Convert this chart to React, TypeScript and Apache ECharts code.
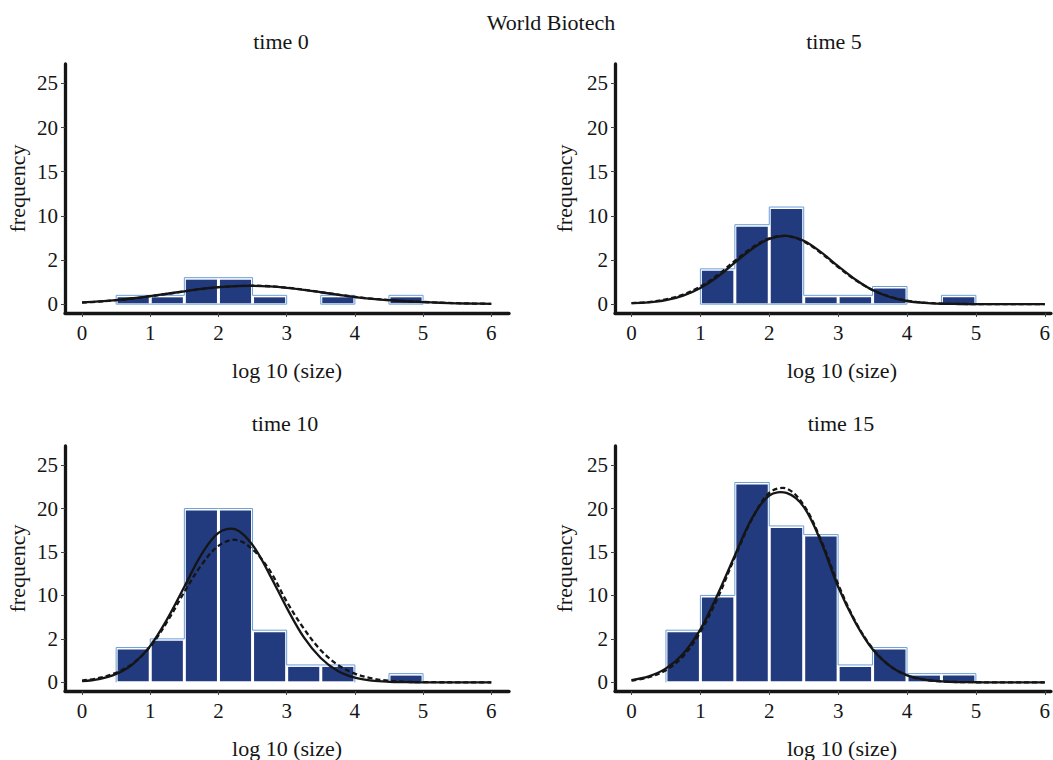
import React, { useEffect, useRef } from "react";
import * as echarts from "echarts";

// ---------- data ----------
const mainTitle = "World Biotech";
const panelTitles = ["time 0", "time 5", "time 10", "time 15"];
const xAxisName = "log 10 (size)";
const yAxisName = "frequency";

const binStarts = [0.5, 1, 1.5, 2, 2.5, 3, 3.5, 4, 4.5];
const binWidth = 0.5;

const countsTime0 = [1, 1, 3, 3, 1, 0, 1, 0, 1];
const countsTime5 = [0, 4, 9, 11, 1, 1, 2, 0, 1];
const countsTime10 = [4, 5, 20, 20, 6, 2, 2, 0, 1];
const countsTime15 = [6, 10, 23, 18, 17, 2, 4, 1, 1];

const curveX = [0, 0.25, 0.5, 0.75, 1, 1.25, 1.5, 1.75, 2, 2.25, 2.5, 2.75, 3, 3.25, 3.5, 3.75, 4, 4.25, 4.5, 4.75, 5, 5.25, 5.5, 5.75, 6];

const solidTime0 = [0.2, 0.31, 0.47, 0.67, 0.91, 1.18, 1.46, 1.72, 1.92, 2.05, 2.08, 2.01, 1.85, 1.62, 1.35, 1.07, 0.81, 0.6, 0.45, 0.33, 0.24, 0.16, 0.1, 0.06, 0.04];
const dashedTime0 = [0.18, 0.29, 0.45, 0.66, 0.9, 1.17, 1.45, 1.71, 1.92, 2.05, 2.09, 2.03, 1.87, 1.64, 1.37, 1.09, 0.83, 0.62, 0.46, 0.34, 0.25, 0.17, 0.11, 0.07, 0.04];

const solidTime5 = [0.12, 0.2, 0.45, 0.97, 1.84, 3.1, 4.7, 6.25, 7.39, 7.74, 7.18, 5.9, 4.3, 2.8, 1.6, 0.81, 0.36, 0.15, 0.05, 0.02, 0.01, 0, 0, 0, 0];
const dashedTime5 = [0.12, 0.24, 0.55, 1.1, 2.0, 3.3, 4.9, 6.4, 7.45, 7.72, 7.1, 5.8, 4.2, 2.75, 1.6, 0.85, 0.4, 0.17, 0.07, 0.03, 0.01, 0, 0, 0, 0];

const solidTime10 = [0.13, 0.37, 0.95, 2.13, 4.2, 7.3, 11.0, 14.7, 17.2, 17.6, 15.8, 12.4, 8.6, 5.2, 2.8, 1.29, 0.53, 0.19, 0.06, 0.02, 0, 0, 0, 0, 0];
const dashedTime10 = [0.2, 0.5, 1.1, 2.2, 4.1, 7.0, 10.4, 13.5, 15.7, 16.4, 15.3, 12.9, 9.3, 6.2, 3.7, 2.0, 1.0, 0.45, 0.18, 0.06, 0.02, 0.01, 0, 0, 0];

const solidTime15 = [0.26, 0.68, 1.6, 3.3, 6.1, 10.1, 14.6, 18.9, 21.5, 21.8, 20.2, 16.2, 11.0, 6.9, 3.8, 1.9, 0.81, 0.31, 0.11, 0.03, 0.01, 0, 0, 0, 0];
const dashedTime15 = [0.21, 0.58, 1.4, 3.0, 5.8, 9.7, 14.4, 18.8, 21.8, 22.3, 20.4, 16.4, 11.3, 7.0, 3.9, 1.9, 0.81, 0.3, 0.1, 0.03, 0.01, 0, 0, 0, 0];

const xTickValues = [0, 1, 2, 3, 4, 5, 6];
const yTickValues = [0, 5, 10, 15, 20, 25];
const yTickLabels = ["0", "2", "10", "15", "20", "25"];

const countsList = [countsTime0, countsTime5, countsTime10, countsTime15];
const solidList = [solidTime0, solidTime5, solidTime10, solidTime15];
const dashedList = [dashedTime0, dashedTime5, dashedTime10, dashedTime15];

// ---------- styles / layout ----------
const FONT = "'Liberation Serif', 'DejaVu Serif', serif";
const BAR = "#223a7e";
const LIGHT = "#6a9fd6";
const INK = "#151515";
const FS = 22;

const panels = [
  { left: 65, top: 64, width: 444, height: 249, xMin: -0.25, xMax: 6.26, yMin: -1, yMax: 27.2, base: true, titleX: 281, titleY: 30, nameGap: 37, namePad: 0 },
  { left: 615, top: 64, width: 438, height: 249, xMin: -0.24, xMax: 6.09, yMin: -1, yMax: 27.2, base: true, titleX: 834, titleY: 30, nameGap: 40, namePad: 18 },
  { left: 65, top: 446, width: 444, height: 248, xMin: -0.25, xMax: 6.26, yMin: -1, yMax: 27.2, base: false, titleX: 285, titleY: 412, nameGap: 37, namePad: 0 },
  { left: 615, top: 446, width: 438, height: 248, xMin: -0.24, xMax: 6.09, yMin: -1, yMax: 27.2, base: false, titleX: 841, titleY: 412, nameGap: 40, namePad: 18 },
];

function envelope(counts: number[], closeBase: boolean) {
  const out: any[] = [];
  let i = 0;
  while (i < counts.length) {
    if (!counts[i]) { i++; continue; }
    const start = i;
    const run: any[] = [[binStarts[start], 0]];
    while (i < counts.length && counts[i]) {
      run.push([binStarts[i], counts[i]]);
      i++;
    }
    const end = binStarts[i - 1] + binWidth;
    run.push([end, 0]);
    if (closeBase) run.push([binStarts[start], 0]);
    if (out.length) out.push(null);
    out.push(...run);
  }
  return out;
}

function curveSeries(k: number, values: number[], dashed: boolean) {
  return {
    type: "custom",
    xAxisIndex: k,
    yAxisIndex: k,
    z: dashed ? 3 : 4,
    silent: true,
    encode: { x: 0, y: 1 },
    data: curveX.map((x, i) => [x, values[i]]),
    renderItem: (params: any, api: any) => {
      if (params.dataIndex !== 0) return null;
      const pts = curveX.map((x, i) => api.coord([x, values[i]]));
      return {
        type: "polyline",
        shape: { points: pts, smooth: 0.35 },
        style: dashed
          ? { stroke: INK, lineWidth: 2.3, fill: "none", lineDash: [5, 3] }
          : { stroke: INK, lineWidth: 2.3, fill: "none" },
      };
    },
  };
}

export default function App() {
  const ref = useRef<HTMLDivElement>(null);

  useEffect(() => {
    if (!ref.current) return;
    const chart = echarts.init(ref.current, null, { renderer: "svg" });

    const grid: any[] = [];
    const xAxis: any[] = [];
    const yAxis: any[] = [];
    const series: any[] = [];
    const title: any[] = [
      {
        text: mainTitle,
        left: 551,
        top: 11,
        textAlign: "center",
        padding: 0,
        textStyle: { fontFamily: FONT, fontSize: FS, fontWeight: "normal", color: INK },
      },
    ];

    panels.forEach((p, k) => {
      grid.push({ left: p.left, top: p.top, width: p.width, height: p.height, containLabel: false });
      title.push({
        text: panelTitles[k],
        left: p.titleX,
        top: p.titleY,
        textAlign: "center",
        padding: 0,
        textStyle: { fontFamily: FONT, fontSize: FS, fontWeight: "normal", color: INK },
      });
      xAxis.push({
        type: "value",
        gridIndex: k,
        min: p.xMin,
        max: p.xMax,
        name: xAxisName,
        nameLocation: "middle",
        nameGap: 46,
        nameTextStyle: { fontFamily: FONT, fontSize: FS, color: INK, padding: [0, 0, 0, p.namePad] },
        splitLine: { show: false },
        axisLine: { show: true, onZero: false, lineStyle: { color: INK, width: 3.3 } },
        axisTick: { show: true, customValues: xTickValues, length: 4, lineStyle: { color: "#444", width: 1 } },
        axisLabel: { customValues: xTickValues, margin: 9, fontFamily: FONT, fontSize: 21, color: INK },
      });
      yAxis.push({
        type: "value",
        gridIndex: k,
        min: p.yMin,
        max: p.yMax,
        name: yAxisName,
        nameLocation: "middle",
        nameRotate: 90,
        nameGap: p.nameGap,
        nameTextStyle: { fontFamily: FONT, fontSize: FS, color: INK },
        splitLine: { show: false },
        axisLine: { show: true, onZero: false, lineStyle: { color: INK, width: 3.3 } },
        axisTick: { show: true, customValues: yTickValues, length: 4, lineStyle: { color: "#444", width: 1 } },
        axisLabel: {
          customValues: yTickValues,
          margin: 7,
          fontFamily: FONT,
          fontSize: 21,
          color: INK,
          formatter: (v: number) => {
            const idx = yTickValues.indexOf(Math.round(v));
            return idx >= 0 ? yTickLabels[idx] : "";
          },
        },
      });

      const counts = countsList[k];
      series.push({
        type: "line",
        xAxisIndex: k,
        yAxisIndex: k,
        step: "end",
        data: envelope(counts, p.base),
        symbol: "none",
        connectNulls: false,
        silent: true,
        z: 1,
        lineStyle: { color: LIGHT, width: 1 },
      });
      series.push({
        type: "custom",
        xAxisIndex: k,
        yAxisIndex: k,
        z: 2,
        silent: true,
        encode: { x: [0, 1], y: 2 },
        data: binStarts.map((b, i) => [b, b + binWidth, counts[i]]),
        renderItem: (params: any, api: any) => {
          const x0 = api.value(0);
          const x1 = api.value(1);
          const v = api.value(2);
          if (!v) return null;
          const tl = api.coord([x0, v]);
          const br = api.coord([x1, 0]);
          return {
            type: "rect",
            shape: { x: tl[0] + 1.5, y: tl[1] + 2, width: br[0] - tl[0] - 3, height: br[1] - tl[1] - 3 },
            style: { fill: BAR },
          };
        },
      });
      series.push(curveSeries(k, dashedList[k], true));
      series.push(curveSeries(k, solidList[k], false));
    });

    chart.setOption({
      animation: false,
      backgroundColor: "#ffffff",
      title,
      grid,
      xAxis,
      yAxis,
      series,
    });

    return () => {
      chart.dispose();
    };
  }, []);

  return (
    <div
      ref={ref}
      style={{ position: "fixed", left: 0, top: 0, width: 1053, height: 760, background: "#fff" }}
    />
  );
}
